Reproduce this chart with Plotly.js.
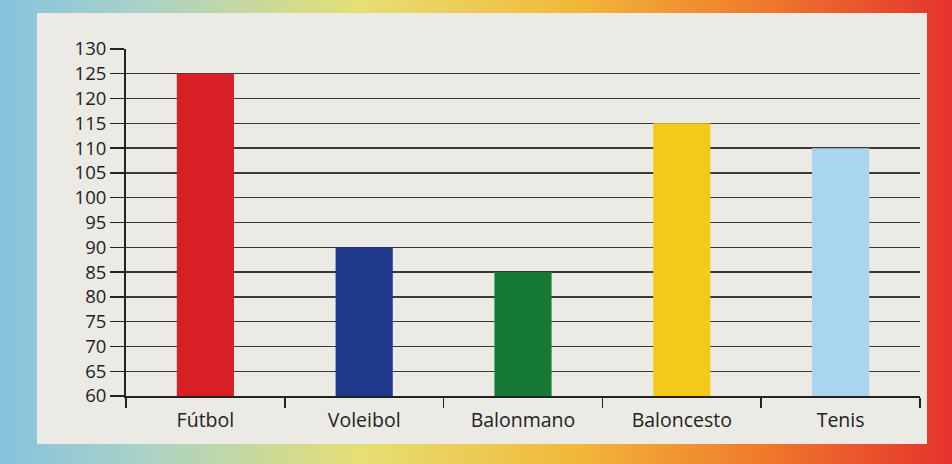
<!DOCTYPE html>
<html>
<head>
<meta charset="utf-8">
<script src="https://cdn.plot.ly/plotly-3.0.1.min.js"></script>
<style>
  html, body { margin:0; padding:0; width:952px; height:464px; overflow:hidden; }
  body { background: linear-gradient(to right, #86c3df 0%, #a9d2c8 15%, #e6df74 38%, #f2b93a 60%, #ef7a2c 80%, #e5322d 100%); position:relative; }
  #paper { position:absolute; left:37px; top:13px; width:890px; height:431px; background:#ebeae5; }
  #chart { position:absolute; left:0; top:0; width:952px; height:464px; }
</style>
</head>
<body>
<div id="paper"></div>
<div id="chart"></div>
<script>
const categories = ["Fútbol", "Voleibol", "Balonmano", "Baloncesto", "Tenis"];
const values = [125, 90, 85, 115, 110];
const barColors = ["#d91f26", "#1f3a8c", "#167a36", "#f3ca17", "#a9d5f0"];
const yTicks = [60, 65, 70, 75, 80, 85, 90, 95, 100, 105, 110, 115, 120, 125, 130];

const yFont = { family: "'Open Sans', sans-serif", size: 18.5, color: "#222" };
const xFont = { family: "'Open Sans', sans-serif", size: 19.5, color: "#222" };

Plotly.newPlot("chart", [{
  type: "bar",
  x: categories,
  y: values,
  marker: { color: barColors, line: { width: 0 } },
  width: 0.36,
  hoverinfo: "x+y"
}], {
  width: 952, height: 464,
  paper_bgcolor: "rgba(0,0,0,0)",
  plot_bgcolor: "rgba(0,0,0,0)",
  margin: { l: 126, r: 32, t: 49, b: 68 },
  showlegend: false,
  font: yFont,
  xaxis: {
    type: "category",
    showgrid: false,
    showline: true, linecolor: "#222", linewidth: 2,
    ticks: "outside", tickson: "boundaries", ticklen: 10, tickcolor: "#222", tickwidth: 1.5,
    tickfont: xFont,
    ticklabelstandoff: 6,
    range: [-0.5, 4.5]
  },
  yaxis: {
    range: [60, 130],
    tickvals: yTicks,
    ticktext: yTicks.map(String),
    showgrid: true, gridcolor: "#3a3a3a", gridwidth: 1.3,
    showline: true, linecolor: "#222", linewidth: 2,
    ticks: "outside", ticklen: 14, tickcolor: "#222", tickwidth: 1.3,
    tickfont: yFont,
    zeroline: false
  }
}, { displayModeBar: false, staticPlot: true });
</script>
</body>
</html>
